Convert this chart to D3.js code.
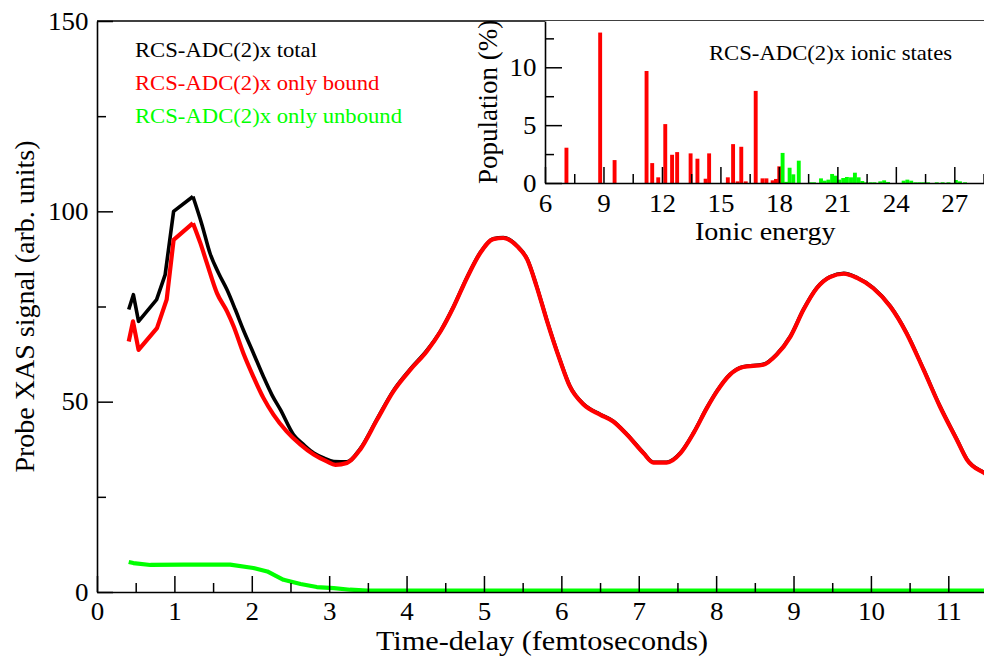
<!DOCTYPE html>
<html>
<head>
<meta charset="utf-8">
<script src="https://cdn.jsdelivr.net/npm/d3@7"></script>
<style>
  html, body { margin: 0; padding: 0; background: #fff; overflow: hidden; }
</style>
</head>
<body>
<svg id="chart" width="984" height="657"></svg>
<script>
// ---- Main panel: probe XAS signal vs. time delay ----
const totalTime = [0.41, 0.47, 0.537, 0.77, 0.88, 0.99, 1.24, 1.356, 1.46, 1.57, 1.68, 1.787, 1.89, 2.02, 2.15, 2.26,
  2.37, 2.54, 2.67, 2.80, 2.93, 3.06, 3.23,
  3.40, 3.62, 3.83, 4.05, 4.26, 4.44, 4.61, 4.78, 4.95, 5.12, 5.25, 5.43, 5.56, 5.68, 5.81, 5.98, 6.11, 6.29, 6.50,
  6.67, 6.85, 7.06, 7.19, 7.36, 7.54, 7.71, 7.88, 8.01, 8.18, 8.35, 8.61, 8.78, 8.96, 9.13, 9.30, 9.47, 9.65, 9.82,
  10.03, 10.25, 10.46, 10.68, 10.89, 11.11, 11.24, 11.46, 11.5];
const totalSignal = [74.2, 78.1, 71.1, 76.8, 83.3, 100.0, 103.9, 96.5, 89.0, 83.8, 79.4, 74.2, 68.9, 62.8, 56.6, 51.8,
  47.9, 41.3, 38.7, 36.5, 35.2, 34.3, 34.2,
  37.6, 45.5, 52.9, 58.6, 63.4, 68.6, 75.1, 82.6, 89.1, 92.8, 93.1, 90.9, 87.4, 80.4, 71.6, 61.1, 54.1, 49.3, 46.7,
  44.9, 41.4, 36.6, 34.1, 34.1, 36.6, 41.9, 48.4, 52.8, 57.2, 59.2, 59.8, 62.4, 67.2, 74.3, 79.9, 82.8, 83.7, 82.6,
  79.9, 75.1, 68.1, 58.5, 48.9, 40.1, 34.9, 31.4, 30.9];

const boundTime = [0.41, 0.465, 0.537, 0.775, 0.90, 0.99, 1.24, 1.335, 1.42, 1.55, 1.68, 1.765, 1.89, 2.02, 2.15, 2.28,
  2.45, 2.63, 2.80, 2.97, 3.08, 3.23,
  3.40, 3.62, 3.83, 4.05, 4.26, 4.44, 4.61, 4.78, 4.95, 5.12, 5.25, 5.43, 5.56, 5.68, 5.81, 5.98, 6.11, 6.29, 6.50,
  6.67, 6.85, 7.06, 7.19, 7.36, 7.54, 7.71, 7.88, 8.01, 8.18, 8.35, 8.61, 8.78, 8.96, 9.13, 9.30, 9.47, 9.65, 9.82,
  10.03, 10.25, 10.46, 10.68, 10.89, 11.11, 11.24, 11.46, 11.5];
const boundSignal = [65.8, 71.1, 63.6, 69.3, 76.8, 92.5, 96.9, 91.7, 86.4, 78.5, 73.7, 69.8, 62.8, 56.6, 51.0, 46.6,
  42.2, 38.7, 36.1, 34.3, 33.4, 33.9,
  37.4, 45.3, 52.7, 58.4, 63.2, 68.5, 75.0, 82.5, 89.0, 92.7, 93.0, 90.8, 87.3, 80.3, 71.5, 61.0, 54.0, 49.2, 46.6,
  44.8, 41.3, 36.5, 34.0, 34.0, 36.5, 41.8, 48.3, 52.7, 57.1, 59.1, 59.7, 62.3, 67.1, 74.2, 79.8, 82.7, 83.6, 82.5,
  79.8, 75.0, 68.0, 58.4, 48.8, 40.0, 34.8, 31.3, 30.8];

const unboundTime = [0.41, 0.47, 0.69, 1.12, 1.72, 2.02, 2.20, 2.41, 2.63, 2.84, 3.06, 3.27, 3.49, 4.5, 6.0, 8.0, 10.0, 11.5];
const unboundSignal = [7.9, 7.6, 7.1, 7.2, 7.2, 6.3, 5.4, 3.2, 2.1, 1.3, 1.0, 0.6, 0.4, 0.4, 0.4, 0.35, 0.35, 0.35];

const mainXTicks = [0, 1, 2, 3, 4, 5, 6, 7, 8, 9, 10, 11];
const mainXMinor = [0.5, 1.5, 2.5, 3.5, 4.5, 5.5, 6.5, 7.5, 8.5, 9.5, 10.5, 11.5];
const mainYTicks = [0, 50, 100, 150];
const mainYMinor = [25, 75, 125];

const legendLabels = ["RCS-ADC(2)x total", "RCS-ADC(2)x only bound", "RCS-ADC(2)x only unbound"];
const seriesColors = ["#000000", "#ff0000", "#00ff00"];

// ---- Inset: ionic state populations ----
const boundEnergy = [7.10, 8.83, 9.57, 11.21, 11.50, 11.81, 12.17, 12.52, 12.78, 13.47, 13.82, 14.24, 14.42, 15.38,
  15.65, 15.88, 16.07, 16.30, 16.81, 17.16, 17.36, 17.68, 17.85, 18.02];
const boundPopulation = [3.05, 13.0, 1.98, 9.68, 1.72, 0.49, 5.09, 2.44, 2.67, 2.56, 2.10, 0.37, 2.56, 0.49,
  3.36, 0.14, 3.13, 0.14, 7.96, 0.40, 0.40, 0.23, 0.35, 1.44];
const unboundEnergy = [18.19, 18.37, 18.55, 18.74, 19.02, 19.60, 19.80, 20.16, 20.35, 20.54, 20.73, 20.91, 21.10,
  21.30, 21.49, 21.70, 21.90, 22.09, 22.28, 22.47, 22.70, 22.90, 23.20, 23.40, 23.60, 24.40, 24.59, 24.79, 25.00,
  25.20, 25.40, 25.65, 26.10, 26.40, 26.70, 27.08, 27.29, 27.55];
const unboundPopulation = [2.60, 0.10, 1.32, 0.75, 1.93, 0.06, 0.06, 0.40, 0.20, 0.29, 0.78, 0.63, 0.29,
  0.43, 0.52, 0.49, 0.89, 0.49, 0.17, 0.06, 0.06, 0.06, 0.14, 0.23, 0.09, 0.20, 0.29, 0.20, 0.06,
  0.06, 0.06, 0.06, 0.06, 0.06, 0.06, 0.26, 0.14, 0.06];

const insetXTicks = [6, 9, 12, 15, 18, 21, 24, 27];
const insetXMinor = [7.5, 10.5, 13.5, 16.5, 19.5, 22.5, 25.5, 28.5];
const insetYTicks = [0, 5, 10];
const insetYMinor = [2.5, 7.5, 12.5];

// ---------------------------------------------------------------
const FONT = '"Liberation Serif", "Times New Roman", Times, serif';
const SX = 1.08;           // glyphs are drawn slightly wide
const BIN = 0.2;           // histogram bin width (eV)
const SMOOTH_FROM = 1.24;  // up to the first maximum the samples are joined point to point

const svg = d3.select("#chart");
svg.append("rect").attr("width", 984).attr("height", 657).attr("fill", "#fff");

function addText(g, txt, px, py, size, anchor, color, rot = 0, sx = SX) {
  return g.append("text")
    .attr("transform", `translate(${px},${py}) rotate(${rot}) scale(${sx},1)`)
    .attr("text-anchor", anchor)
    .attr("font-family", FONT)
    .attr("font-size", size)
    .attr("fill", color)
    .text(txt);
}

function styleAxis(g) {
  g.selectAll(".domain").attr("stroke", "#000").attr("stroke-width", 1.6);
  g.selectAll(".tick line").attr("stroke", "#000").attr("stroke-width", 1.5);
}

// ---- main panel ----
const x = d3.scaleLinear().domain([0, 11.5]).range([97, 987]);
const y = d3.scaleLinear().domain([0, 150]).range([592, 21]);

const main = svg.append("g");

main.append("clipPath").attr("id", "mainClip")
  .append("rect").attr("x", x(0)).attr("y", y(150)).attr("width", x(11.5) - x(0)).attr("height", y(0) - y(150));

const lineLinear = d3.line().x(d => x(d[0])).y(d => y(d[1])).curve(d3.curveLinear);
const lineSmooth = d3.line().x(d => x(d[0])).y(d => y(d[1])).curve(d3.curveMonotoneX);

const curves = [
  { pts: d3.zip(totalTime, totalSignal), w: 3.6, smooth: true },
  { pts: d3.zip(boundTime, boundSignal), w: 4.2, smooth: true },
  { pts: d3.zip(unboundTime, unboundSignal), w: 4.2, smooth: false }
];

const curveG = main.append("g").attr("clip-path", "url(#mainClip)");
curves.forEach((c, i) => {
  const early = c.smooth ? c.pts.filter(d => d[0] <= SMOOTH_FROM) : c.pts;
  const late = c.smooth ? c.pts.filter(d => d[0] >= SMOOTH_FROM) : [];
  [[early, lineLinear], [late, lineSmooth]].forEach(([seg, gen]) => {
    if (seg.length < 2) return;
    curveG.append("path").datum(seg)
      .attr("d", gen)
      .attr("fill", "none")
      .attr("stroke", seriesColors[i])
      .attr("stroke-width", c.w)
      .attr("stroke-linejoin", "round");
  });
});

// axes (ticks point into the plot)
const xAxisMinor = main.append("g").attr("transform", `translate(0,${y(0)})`)
  .call(d3.axisBottom(x).tickValues(mainXMinor).tickSize(-9).tickSizeOuter(0).tickFormat(""));
xAxisMinor.select(".domain").remove();
styleAxis(xAxisMinor);

const xAxis = main.append("g").attr("transform", `translate(0,${y(0)})`)
  .call(d3.axisBottom(x).tickValues(mainXTicks).tickSize(-16).tickSizeOuter(0).tickPadding(10).tickFormat(d3.format("d")));
styleAxis(xAxis);
xAxis.selectAll(".tick text")
  .attr("font-family", FONT).attr("font-size", 25).attr("fill", "#000")
  .attr("transform", `scale(${SX},1)`);

const yAxisMinor = main.append("g").attr("transform", `translate(${x(0)},0)`)
  .call(d3.axisLeft(y).tickValues(mainYMinor).tickSize(-9).tickSizeOuter(0).tickFormat(""));
yAxisMinor.select(".domain").remove();
styleAxis(yAxisMinor);

const yAxis = main.append("g").attr("transform", `translate(${x(0)},0)`)
  .call(d3.axisLeft(y).tickValues(mainYTicks).tickSize(-16).tickSizeOuter(0).tickPadding(8).tickFormat(d3.format("d")));
styleAxis(yAxis);
yAxis.selectAll(".tick text")
  .attr("font-family", FONT).attr("font-size", 25).attr("fill", "#000")
  .attr("transform", `scale(${SX},1)`);

// top frame line
main.append("line")
  .attr("x1", x(0)).attr("x2", x(11.5)).attr("y1", y(150)).attr("y2", y(150))
  .attr("stroke", "#000").attr("stroke-width", 1.6);

addText(main, "Time-delay (femtoseconds)", (x(0) + x(11.5)) / 2, 650, 28, "middle", "#000");
addText(main, "Probe XAS signal (arb. units)", 34, (y(0) + y(150)) / 2, 28, "middle", "#000", -90, 1.0);

legendLabels.forEach((t, i) => {
  addText(main, t, 135, 57 + i * 33, 21, "start", seriesColors[i]);
});

// ---- inset ----
const xi = d3.scaleLinear().domain([6, 28.6]).range([545, 985.5]);
const yi = d3.scaleLinear().domain([0, 14]).range([183, 21]);

const inset = svg.append("g");
inset.append("rect")
  .attr("x", xi(6)).attr("y", yi(14)).attr("width", xi(28.6) - xi(6)).attr("height", yi(0) - yi(14))
  .attr("fill", "#fff");

const bars = [
  { e: boundEnergy, p: boundPopulation, c: seriesColors[1] },
  { e: unboundEnergy, p: unboundPopulation, c: seriesColors[2] }
];
bars.forEach(set => {
  inset.append("g").selectAll("rect")
    .data(d3.zip(set.e, set.p))
    .join("rect")
    .attr("x", d => xi(d[0] - BIN / 2))
    .attr("width", d => xi(d[0] + BIN / 2) - xi(d[0] - BIN / 2))
    .attr("y", d => yi(d[1]))
    .attr("height", d => yi(0) - yi(d[1]))
    .attr("fill", set.c);
});

const xiMinor = inset.append("g").attr("transform", `translate(0,${yi(0)})`)
  .call(d3.axisBottom(xi).tickValues(insetXMinor).tickSize(-9).tickSizeOuter(0).tickFormat(""));
xiMinor.select(".domain").remove();
styleAxis(xiMinor);

const xiAxis = inset.append("g").attr("transform", `translate(0,${yi(0)})`)
  .call(d3.axisBottom(xi).tickValues(insetXTicks).tickSize(-16).tickSizeOuter(0).tickPadding(11).tickFormat(d3.format("d")));
styleAxis(xiAxis);
xiAxis.selectAll(".tick text")
  .attr("font-family", FONT).attr("font-size", 25).attr("fill", "#000")
  .attr("transform", `scale(${SX},1)`);

const yiMinor = inset.append("g").attr("transform", `translate(${xi(6)},0)`)
  .call(d3.axisLeft(yi).tickValues(insetYMinor).tickSize(-9).tickSizeOuter(0).tickFormat(""));
yiMinor.select(".domain").remove();
styleAxis(yiMinor);

const yiAxis = inset.append("g").attr("transform", `translate(${xi(6)},0)`)
  .call(d3.axisLeft(yi).tickValues(insetYTicks).tickSize(-17).tickSizeOuter(0).tickPadding(8).tickFormat(d3.format("d")));
styleAxis(yiAxis);
yiAxis.selectAll(".tick text")
  .attr("font-family", FONT).attr("font-size", 25).attr("fill", "#000")
  .attr("transform", `scale(${SX},1)`);

addText(inset, "RCS-ADC(2)x ionic states", 709, 60, 21, "start", "#000");
addText(inset, "Ionic energy", (xi(6) + xi(28.6)) / 2, 240, 26, "middle", "#000");
addText(inset, "Population (%)", 497, (yi(0) + yi(14)) / 2, 27, "middle", "#000", -90, 1.0);
</script>
</body>
</html>
